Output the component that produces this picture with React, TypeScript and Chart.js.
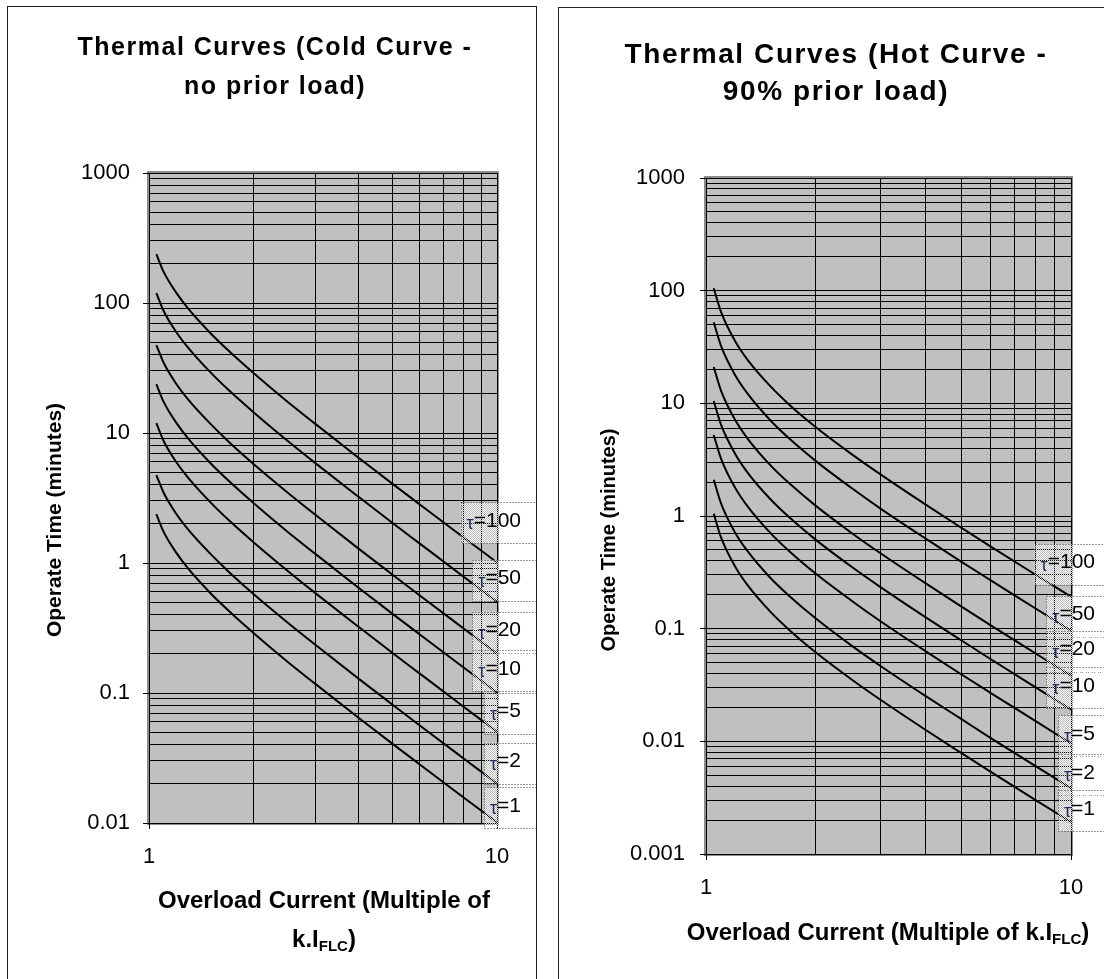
import React, { useEffect, useRef } from "react";
import { Chart, registerables } from "chart.js";

Chart.register(...registerables);

// ---------------- data ----------------
const OVERLOAD_CURRENT = [1.05, 1.1, 1.2, 1.3, 1.5, 1.7, 2, 2.5, 3, 4, 5, 6, 8, 10];
const TAU_VALUES = [100, 50, 20, 10, 5, 2, 1];

const COLD_TAU_100 = [238, 175, 119, 89.6, 58.8, 42.5, 28.8, 17.4, 11.8, 6.45, 4.08, 2.82, 1.58, 1.01];
const COLD_TAU_50 = [119, 87.6, 59.3, 44.8, 29.4, 21.2, 14.4, 8.72, 5.89, 3.23, 2.04, 1.41, 0.788, 0.503];
const COLD_TAU_20 = [47.5, 35.0, 23.7, 17.9, 11.8, 8.49, 5.75, 3.49, 2.36, 1.29, 0.816, 0.563, 0.315, 0.201];
const COLD_TAU_10 = [23.8, 17.5, 11.9, 8.96, 5.88, 4.25, 2.88, 1.74, 1.18, 0.645, 0.408, 0.282, 0.158, 0.101];
const COLD_TAU_5 = [11.9, 8.76, 5.93, 4.48, 2.94, 2.12, 1.44, 0.872, 0.589, 0.323, 0.204, 0.141, 0.0788, 0.0503];
const COLD_TAU_2 = [4.75, 3.5, 2.37, 1.79, 1.18, 0.849, 0.575, 0.349, 0.236, 0.129, 0.0816, 0.0563, 0.0315, 0.0201];
const COLD_TAU_1 = [2.38, 1.75, 1.19, 0.896, 0.588, 0.425, 0.288, 0.174, 0.118, 0.0645, 0.0408, 0.0282, 0.0158, 0.0101];

const HOT_TAU_100 = [105, 64.4, 35.9, 24.3, 14.2, 9.58, 6.14, 3.56, 2.35, 1.26, 0.789, 0.541, 0.301, 0.192];
const HOT_TAU_50 = [52.4, 32.2, 17.95, 12.2, 7.08, 4.79, 3.07, 1.78, 1.17, 0.629, 0.394, 0.271, 0.151, 0.0959];
const HOT_TAU_20 = [21.0, 12.9, 7.18, 4.87, 2.83, 1.92, 1.23, 0.711, 0.469, 0.252, 0.158, 0.108, 0.0602, 0.0383];
const HOT_TAU_10 = [10.5, 6.44, 3.59, 2.43, 1.415, 0.958, 0.614, 0.356, 0.235, 0.126, 0.0789, 0.0541, 0.0301, 0.0192];
const HOT_TAU_5 = [5.24, 3.22, 1.795, 1.217, 0.708, 0.479, 0.307, 0.178, 0.117, 0.0629, 0.0394, 0.0271, 0.0151, 0.00959];
const HOT_TAU_2 = [2.1, 1.289, 0.718, 0.487, 0.283, 0.192, 0.123, 0.0711, 0.0469, 0.0252, 0.0158, 0.0108, 0.00602, 0.00383];
const HOT_TAU_1 = [1.049, 0.644, 0.359, 0.243, 0.1415, 0.0958, 0.0614, 0.0356, 0.0235, 0.0126, 0.00789, 0.00541, 0.00301, 0.00192];

const X_TICK_LABELS = ["1", "10"];
const X_GRID = [1, 2, 3, 4, 5, 6, 7, 8, 9, 10];
const COLD_Y_TICK_LABELS = ["0.01", "0.1", "1", "10", "100", "1000"];
const HOT_Y_TICK_LABELS = ["0.001", "0.01", "0.1", "1", "10", "100", "1000"];

const COLD_TITLE = ["Thermal Curves (Cold Curve -", "no prior load)"];
const HOT_TITLE = ["Thermal Curves (Hot Curve -", "90% prior load)"];
const Y_TITLE = "Operate Time (minutes)";
const COLD_X_TITLE = [[{ t: "Overload Current (Multiple of" }], [{ t: "k.I" }, { t: "FLC", sub: true }, { t: ")" }]];
const HOT_X_TITLE = [[{ t: "Overload Current (Multiple of k.I" }, { t: "FLC", sub: true }, { t: ")" }]];

// label vertical offsets from the last point (layout only)
const COLD_LABEL_DY = [-43, -25, -25, -25, -22, -24, -18];
const HOT_LABEL_DY = [-36, -18, -28, -25, -11, -17, -15];

const FONT = "'Liberation Sans', Arial, Helvetica, sans-serif";

type Seg = { t: string; sub?: boolean };
type Spec = {
  canvasW: number;
  canvasH: number;
  plotLeft: number;
  plotTop: number;
  plotRight: number;
  plotBottom: number;
  yLabels: string[];
  series: number[][];
  title: string[];
  titleFont: string;
  titleSpacing: string;
  titleX: number;
  titleBaselines: number[];
  yTitleX: number;
  yTitleY: number;
  yTitleFont: string;
  xTitle: Seg[][];
  xTitleX: number;
  xTitleBaselines: number[];
  xTitleSize: number;
  labelDy: number[];
  xTickPad: number;
  yTickPad: number;
};

const near = (a: number, b: number) => Math.abs(a - b) <= Math.abs(b) * 1e-6;

function buildConfig(spec: Spec): any {
  const yNums = spec.yLabels.map(Number);
  const yGrid: number[] = [];
  for (let i = 0; i < yNums.length - 1; i++) {
    for (let m = 1; m <= 9; m++) yGrid.push(Number((m * yNums[i]).toPrecision(6)));
  }
  yGrid.push(yNums[yNums.length - 1]);
  const xNums = X_TICK_LABELS.map(Number);

  const decor = {
    id: "decor",
    beforeDraw(chart: any) {
      const { ctx, chartArea: a } = chart;
      ctx.save();
      ctx.fillStyle = "#fff";
      ctx.fillRect(0, 0, chart.width, chart.height);
      ctx.fillStyle = "#C0C0C0";
      ctx.fillRect(a.left, a.top, a.right - a.left, a.bottom - a.top);
      ctx.strokeStyle = "#8c8c8c";
      ctx.lineWidth = 2;
      ctx.strokeRect(a.left - 1, a.top - 1, a.right - a.left + 2, a.bottom - a.top + 2);
      ctx.restore();
    },
    afterDatasetsDraw(chart: any) {
      const { ctx, chartArea: a } = chart;
      const pc = document.createElement("canvas");
      pc.width = 2;
      pc.height = 2;
      const p = pc.getContext("2d")!;
      p.fillStyle = "rgba(255,255,255,0.85)";
      p.fillRect(0, 0, 1, 1);
      p.fillRect(1, 1, 1, 1);
      const pattern = ctx.createPattern(pc, "repeat");
      ctx.save();
      TAU_VALUES.forEach((tau, i) => {
        const meta = chart.getDatasetMeta(i);
        const pt = meta.data[meta.data.length - 1];
        const cy = pt.y + spec.labelDy[i];
        const main = "=" + tau;
        ctx.font = `18px ${FONT}`;
        const wTau = ctx.measureText("τ").width;
        ctx.font = `21px ${FONT}`;
        const wMain = ctx.measureText(main).width;
        const right = a.right + 39;
        const w = wTau + wMain + 21;
        const left = right - w;
        const top = cy - 17;
        const h = 41;
        ctx.fillStyle = pattern;
        ctx.fillRect(left, top, w, h);
        ctx.setLineDash([1, 2]);
        ctx.strokeStyle = "#333";
        ctx.lineWidth = 1;
        ctx.strokeRect(Math.round(left) + 0.5, Math.round(top) + 0.5, Math.round(w), h);
        ctx.setLineDash([]);
        ctx.textAlign = "left";
        ctx.textBaseline = "alphabetic";
        ctx.fillStyle = "#1c2a5c";
        ctx.font = `18px ${FONT}`;
        ctx.fillText("τ", left + 6, cy + 10);
        ctx.fillStyle = "#000";
        ctx.font = `21px ${FONT}`;
        ctx.fillText(main, left + 6 + wTau, cy + 7.5);
      });
      ctx.restore();
    },
    afterDraw(chart: any) {
      const { ctx } = chart;
      ctx.save();
      ctx.fillStyle = "#000";
      ctx.textBaseline = "alphabetic";
      // chart title
      ctx.font = spec.titleFont;
      (ctx as any).letterSpacing = spec.titleSpacing;
      ctx.textAlign = "center";
      spec.title.forEach((line, i) => ctx.fillText(line, spec.titleX, spec.titleBaselines[i]));
      (ctx as any).letterSpacing = "0px";
      // y axis title
      ctx.save();
      ctx.translate(spec.yTitleX, spec.yTitleY);
      ctx.rotate(-Math.PI / 2);
      ctx.font = spec.yTitleFont;
      ctx.textAlign = "center";
      ctx.textBaseline = "middle";
      ctx.fillText(Y_TITLE, 0, 0);
      ctx.restore();
      // x axis title with subscript
      ctx.textAlign = "left";
      spec.xTitle.forEach((segs, li) => {
        const fontFor = (s: Seg) => `bold ${s.sub ? 15 : spec.xTitleSize}px ${FONT}`;
        let total = 0;
        const widths = segs.map((s) => {
          ctx.font = fontFor(s);
          const w = ctx.measureText(s.t).width;
          total += w;
          return w;
        });
        let x = spec.xTitleX - total / 2;
        const base = spec.xTitleBaselines[li];
        segs.forEach((s, k) => {
          ctx.font = fontFor(s);
          ctx.fillText(s.t, x, s.sub ? base + 4 : base);
          x += widths[k];
        });
      });
      ctx.restore();
    },
  };

  const gridCommon = {
    color: "#000",
    lineWidth: 1,
    drawTicks: true,
    tickLength: 6,
  };

  return {
    type: "line",
    data: {
      datasets: spec.series.map((vals, i) => ({
        label: "τ=" + TAU_VALUES[i],
        data: OVERLOAD_CURRENT.map((x, j) => ({ x, y: vals[j] })),
        borderColor: "#000",
        borderWidth: 2,
        pointRadius: 0,
        fill: false,
        cubicInterpolationMode: "monotone",
      })),
    },
    options: {
      responsive: false,
      animation: false,
      events: [],
      layout: { padding: { left: 0, top: spec.plotTop, right: spec.canvasW - spec.plotRight, bottom: 0 } },
      plugins: { legend: { display: false }, title: { display: false }, tooltip: { enabled: false } },
      scales: {
        x: {
          type: "logarithmic",
          min: 1,
          max: 10,
          afterBuildTicks: (s: any) => {
            s.ticks = X_GRID.map((v) => ({ value: v }));
          },
          afterFit: (s: any) => {
            s.height = spec.canvasH - spec.plotBottom;
          },
          ticks: {
            autoSkip: false,
            maxRotation: 0,
            minRotation: 0,
            padding: spec.xTickPad,
            color: "#000",
            font: { family: FONT, size: 22 },
            callback: (v: number) => {
              const k = xNums.findIndex((n) => near(v, n));
              return k >= 0 ? X_TICK_LABELS[k] : "";
            },
          },
          grid: {
            ...gridCommon,
            tickColor: (c: any) => (c.tick && xNums.some((n) => near(c.tick.value, n)) ? "#000" : "rgba(0,0,0,0)"),
          },
          border: { display: true, color: "#000", width: 1 },
        },
        y: {
          type: "logarithmic",
          min: yNums[0],
          max: yNums[yNums.length - 1],
          afterBuildTicks: (s: any) => {
            s.ticks = yGrid.map((v) => ({ value: v }));
          },
          afterFit: (s: any) => {
            s.width = spec.plotLeft;
          },
          ticks: {
            autoSkip: false,
            padding: spec.yTickPad,
            color: "#000",
            font: { family: FONT, size: 22 },
            callback: (v: number) => {
              const k = yNums.findIndex((n) => near(v, n));
              return k >= 0 ? spec.yLabels[k] : "";
            },
          },
          grid: {
            ...gridCommon,
            tickColor: (c: any) => (c.tick && yNums.some((n) => near(c.tick.value, n)) ? "#000" : "rgba(0,0,0,0)"),
          },
          border: { display: true, color: "#000", width: 1 },
        },
      },
    },
    plugins: [decor],
  };
}

const COLD_SPEC: Spec = {
  canvasW: 528,
  canvasH: 972,
  plotLeft: 141,
  plotTop: 166,
  plotRight: 489,
  plotBottom: 816,
  yLabels: COLD_Y_TICK_LABELS,
  series: [COLD_TAU_100, COLD_TAU_50, COLD_TAU_20, COLD_TAU_10, COLD_TAU_5, COLD_TAU_2, COLD_TAU_1],
  title: COLD_TITLE,
  titleFont: `bold 25px ${FONT}`,
  titleSpacing: "1.5px",
  titleX: 267,
  titleBaselines: [48, 87],
  yTitleX: 47,
  yTitleY: 513,
  yTitleFont: `bold 21px ${FONT}`,
  xTitle: COLD_X_TITLE,
  xTitleX: 316,
  xTitleBaselines: [901, 940],
  xTitleSize: 24,
  labelDy: COLD_LABEL_DY,
  xTickPad: 15,
  yTickPad: 13,
};

const HOT_SPEC: Spec = {
  canvasW: 545,
  canvasH: 971,
  plotLeft: 147,
  plotTop: 170,
  plotRight: 512,
  plotBottom: 846,
  yLabels: HOT_Y_TICK_LABELS,
  series: [HOT_TAU_100, HOT_TAU_50, HOT_TAU_20, HOT_TAU_10, HOT_TAU_5, HOT_TAU_2, HOT_TAU_1],
  title: HOT_TITLE,
  titleFont: `bold 28px ${FONT}`,
  titleSpacing: "1.6px",
  titleX: 277,
  titleBaselines: [55, 92],
  yTitleX: 50,
  yTitleY: 532,
  yTitleFont: `bold 20px ${FONT}`,
  xTitle: HOT_X_TITLE,
  xTitleX: 329,
  xTitleBaselines: [932],
  xTitleSize: 24,
  labelDy: HOT_LABEL_DY,
  xTickPad: 15,
  yTickPad: 15,
};

function ThermalChart({ spec, left, top }: { spec: Spec; left: number; top: number }) {
  const ref = useRef<HTMLCanvasElement>(null);
  useEffect(() => {
    const chart = new Chart(ref.current as HTMLCanvasElement, buildConfig(spec));
    return () => chart.destroy();
  }, [spec]);
  return (
    <div
      style={{
        position: "absolute",
        left,
        top,
        border: "1px solid #222",
        background: "#fff",
        width: spec.canvasW,
        height: spec.canvasH + 20,
      }}
    >
      <canvas
        ref={ref}
        width={spec.canvasW}
        height={spec.canvasH}
        style={{ display: "block", width: spec.canvasW, height: spec.canvasH }}
      />
    </div>
  );
}

export default function App() {
  return (
    <div
      style={{
        position: "fixed",
        left: 0,
        top: 0,
        width: 1104,
        height: 979,
        overflow: "hidden",
        background: "#fff",
      }}
    >
      <ThermalChart spec={COLD_SPEC} left={7} top={6} />
      <ThermalChart spec={HOT_SPEC} left={558} top={7} />
    </div>
  );
}
